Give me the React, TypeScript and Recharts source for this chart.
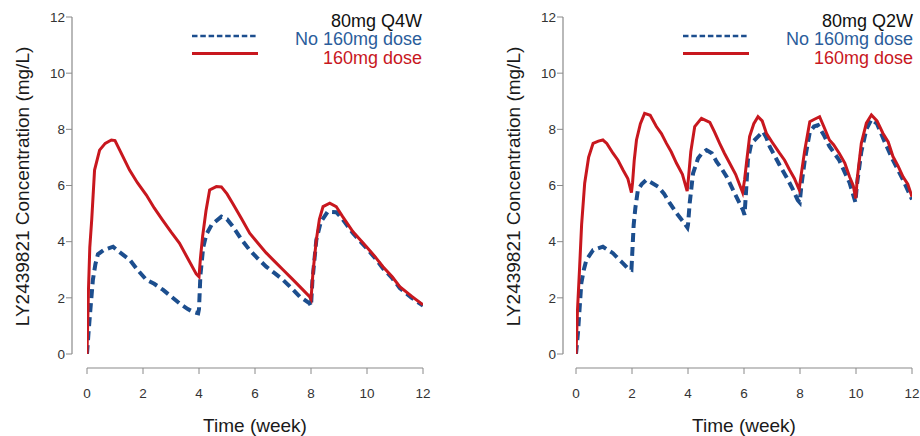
import { LineChart, Line, XAxis, YAxis, ReferenceLine, Legend, Label } from 'recharts';

// weeks on the x axis, mg/L on the y axis
const axisTicks = [0, 2, 4, 6, 8, 10, 12];

// 80mg Q4W, 160mg loading dose
const q4wLoadTime = [0, 0.05, 0.1, 0.17, 0.27, 0.45, 0.65, 0.87, 1.0, 1.2, 1.52, 1.8, 2.12, 2.4, 2.7, 3.0, 3.3, 3.6, 3.9, 4.0, 4.05, 4.13, 4.25, 4.38, 4.62, 4.8, 5.0, 5.2, 5.5, 5.81, 6.1, 6.4, 6.7, 7.0, 7.3, 7.6, 7.95, 8.0, 8.07, 8.19, 8.3, 8.43, 8.67, 8.9, 9.13, 9.5, 9.98, 10.3, 10.57, 10.9, 11.17, 11.6, 12];
const q4wLoadConc = [0, 2.2, 3.8, 4.8, 6.55, 7.26, 7.5, 7.62, 7.6, 7.2, 6.55, 6.1, 5.66, 5.2, 4.77, 4.35, 3.95, 3.4, 2.85, 2.75, 3.4, 4.2, 5.1, 5.84, 5.96, 5.95, 5.7, 5.37, 4.85, 4.3, 3.95, 3.6, 3.3, 3.0, 2.7, 2.4, 2.04, 1.95, 2.9, 4.06, 4.8, 5.25, 5.37, 5.25, 4.89, 4.35, 3.82, 3.45, 3.11, 2.75, 2.4, 2.05, 1.75];

// 80mg Q4W, no loading dose
const q4wNoLoadTime = [0, 0.05, 0.1, 0.21, 0.3, 0.39, 0.6, 0.93, 1.2, 1.53, 1.8, 2.12, 2.4, 2.72, 3.0, 3.31, 3.6, 3.79, 3.97, 4.0, 4.05, 4.15, 4.26, 4.45, 4.8, 5.0, 5.2, 5.5, 5.81, 6.1, 6.4, 6.7, 7.0, 7.3, 7.6, 7.95, 8.0, 8.05, 8.19, 8.35, 8.6, 8.9, 9.13, 9.5, 10.0, 10.3, 10.57, 10.9, 11.17, 11.6, 12];
const q4wNoLoadConc = [0, 0.7, 1.33, 2.64, 3.2, 3.55, 3.7, 3.82, 3.6, 3.35, 3.0, 2.64, 2.5, 2.28, 2.05, 1.8, 1.6, 1.5, 1.45, 1.6, 2.8, 3.8, 4.25, 4.6, 4.89, 4.8, 4.55, 4.1, 3.7, 3.4, 3.11, 2.88, 2.64, 2.35, 2.04, 1.8, 1.7, 2.6, 4.06, 4.7, 5.07, 5.05, 4.8, 4.3, 3.75, 3.4, 3.05, 2.7, 2.35, 2.0, 1.72];

// 80mg Q2W, 160mg loading dose
const q2wLoadTime = [0, 0.05, 0.13, 0.2, 0.31, 0.45, 0.61, 0.8, 0.96, 1.1, 1.32, 1.5, 1.68, 1.85, 1.98, 2.02, 2.08, 2.16, 2.3, 2.45, 2.65, 2.87, 3.05, 3.23, 3.4, 3.59, 3.8, 3.97, 4.02, 4.1, 4.24, 4.48, 4.78, 4.95, 5.13, 5.3, 5.49, 5.7, 5.95, 6.02, 6.1, 6.2, 6.35, 6.5, 6.65, 6.8, 7.0, 7.27, 7.45, 7.63, 7.8, 7.97, 8.03, 8.17, 8.35, 8.5, 8.7, 8.85, 9.05, 9.2, 9.4, 9.6, 9.77, 9.9, 9.99, 10.05, 10.19, 10.37, 10.55, 10.75, 10.96, 11.15, 11.32, 11.5, 11.68, 11.85, 12];
const q2wLoadConc = [0, 1.5, 3.1, 4.6, 6.08, 7.0, 7.5, 7.58, 7.62, 7.5, 7.15, 6.9, 6.55, 6.25, 5.75, 6.1, 6.9, 7.62, 8.2, 8.57, 8.5, 8.1, 7.85, 7.5, 7.2, 6.79, 6.4, 5.8, 6.3, 7.2, 8.1, 8.39, 8.25, 7.9, 7.5, 7.15, 6.79, 6.4, 5.75, 6.2, 6.9, 7.74, 8.2, 8.45, 8.3, 7.86, 7.55, 7.15, 6.9, 6.55, 6.25, 5.85, 6.3, 7.26, 8.27, 8.35, 8.45, 8.1, 7.62, 7.45, 7.15, 6.8, 6.31, 6.0, 5.54, 6.3, 7.5, 8.22, 8.51, 8.3, 7.86, 7.55, 7.03, 6.7, 6.31, 6.05, 5.6];

// 80mg Q2W, no loading dose
const q2wNoLoadTime = [0, 0.07, 0.19, 0.28, 0.37, 0.61, 0.96, 1.32, 1.5, 1.68, 1.85, 1.98, 2.02, 2.06, 2.12, 2.21, 2.35, 2.51, 2.7, 2.93, 3.15, 3.35, 3.6, 3.83, 3.98, 4.0, 4.06, 4.18, 4.36, 4.5, 4.66, 4.85, 5.02, 5.2, 5.38, 5.67, 5.96, 6.02, 6.08, 6.14, 6.26, 6.5, 6.68, 6.8, 6.92, 7.1, 7.27, 7.57, 7.75, 7.92, 7.99, 8.05, 8.17, 8.35, 8.5, 8.64, 8.85, 9.05, 9.4, 9.77, 9.98, 10.03, 10.19, 10.37, 10.55, 10.75, 10.96, 11.32, 11.68, 12];
const q2wNoLoadConc = [0, 0.75, 2.52, 3.0, 3.35, 3.7, 3.82, 3.59, 3.4, 3.23, 3.05, 3.0, 3.8, 4.6, 5.2, 5.84, 6.05, 6.2, 6.1, 5.96, 5.7, 5.37, 5.0, 4.71, 4.5, 4.6, 5.37, 6.43, 6.97, 7.15, 7.26, 7.15, 6.85, 6.6, 6.31, 5.72, 5.13, 4.95, 5.9, 6.91, 7.5, 7.74, 7.92, 7.7, 7.38, 7.05, 6.73, 6.2, 5.85, 5.48, 5.4, 6.0, 6.9, 7.9, 8.1, 8.15, 7.8, 7.4, 6.9, 6.1, 5.4, 6.0, 7.2, 8.0, 8.35, 8.2, 7.7, 6.9, 6.2, 5.5];

const toPoints = (time: number[], conc: number[]) => time.map((t, i) => ({ t, c: conc[i] }));

const FONT = '"Liberation Sans", Arial, Helvetica, sans-serif';
const RED = '#c8171e';
const BLUE = '#1c4e8e';
const LEGEND_BLUE = '#2b5d9b';
const AXIS = '#8a8a8a';

const H = 436;
const TOP = 17;
const X_AXIS_H = 68;
const PAD_BOTTOM = 14;
const Y_AXIS_W = 72;

const YTitle = (props: any) => {
  const vb = props.viewBox || { x: 0, y: TOP, width: Y_AXIS_W, height: H - TOP - X_AXIS_H };
  const cx = vb.x + 29;
  const cy = vb.y + (vb.height - PAD_BOTTOM) / 2 + 1;
  return (
    <text x={cx} y={cy} transform={`rotate(-90 ${cx} ${cy})`} textAnchor="middle" fontSize={19} fill="#1a1a1a" fontFamily={FONT}>
      LY2439821 Concentration (mg/L)
    </text>
  );
};

const XTitle = (props: any) => {
  const pad = props.padLeft ?? 0;
  const vb = props.viewBox || { x: Y_AXIS_W, y: H - X_AXIS_H, width: 336 + pad, height: X_AXIS_H };
  const cx = vb.x + pad + (vb.width - pad) / 2;
  return (
    <text x={cx} y={vb.y + vb.height - 4} textAnchor="middle" fontSize={19} fill="#1a1a1a" fontFamily={FONT}>
      Time (week)
    </text>
  );
};

const DoseLegend = ({ title }: { title: string }) => (
  <svg width={430} height={72} style={{ display: 'block' }}>
    <line x1={192} x2={258} y1={36} y2={36} stroke={BLUE} strokeWidth={2.5} strokeDasharray="5.5 2.8" />
    <line x1={192} x2={258} y1={53.5} y2={53.5} stroke={RED} strokeWidth={3} />
    <g fontFamily={FONT} fontSize={18} textAnchor="end">
      <text x={422} y={26.5} fill="#111">{title}</text>
      <text x={422} y={45} fill={LEGEND_BLUE}>No 160mg dose</text>
      <text x={422} y={63.5} fill={RED}>160mg dose</text>
    </g>
  </svg>
);

type PanelProps = {
  title: string;
  load: { t: number; c: number }[];
  noLoad: { t: number; c: number }[];
  left: number;
  width: number;
  padLeft: number;
  marginRight: number;
};

const Panel = ({ title, load, noLoad, left, width, padLeft, marginRight }: PanelProps) => {
  const plotH = H - TOP - X_AXIS_H;
  const yPerUnit = (plotH - PAD_BOTTOM) / 12;
  const xPerUnit = (width - Y_AXIS_W - marginRight - padLeft) / 12;
  const axisY = -PAD_BOTTOM / yPerUnit;
  const axisX = -padLeft / xPerUnit;

  return (
    <div style={{ position: 'absolute', left, top: 0 }}>
      <LineChart width={width} height={H} margin={{ top: TOP, right: marginRight, bottom: 0, left: 0 }} style={{ fontFamily: FONT }}>
        <XAxis
          dataKey="t"
          type="number"
          domain={[0, 12]}
          ticks={axisTicks}
          padding={{ left: padLeft, right: 0 }}
          height={X_AXIS_H}
          axisLine={false}
          tickLine={{ stroke: AXIS }}
          tickSize={6}
          tickMargin={14}
          tick={{ fill: '#333', fontSize: 13.5, fontFamily: FONT }}
          allowDataOverflow
        >
          <Label content={<XTitle padLeft={padLeft} />} />
        </XAxis>
        <YAxis
          type="number"
          domain={[0, 12]}
          ticks={axisTicks}
          padding={{ top: 0, bottom: PAD_BOTTOM }}
          width={Y_AXIS_W}
          axisLine={false}
          tickLine={{ stroke: AXIS }}
          tickSize={6}
          tickMargin={1}
          tick={{ fill: '#333', fontSize: 13.5, fontFamily: FONT }}
          allowDataOverflow
        >
          <Label content={<YTitle />} />
        </YAxis>
        <ReferenceLine segment={[{ x: 0, y: axisY }, { x: 12, y: axisY }]} stroke={AXIS} strokeWidth={1.2} ifOverflow="visible" />
        <ReferenceLine segment={[{ x: axisX, y: 0 }, { x: axisX, y: 12 }]} stroke={AXIS} strokeWidth={1.2} ifOverflow="visible" />
        <Legend
          layout="vertical"
          align="center"
          verticalAlign="middle"
          wrapperStyle={{ left: 0, top: 0, width: 430, height: 72 }}
          content={<DoseLegend title={title} />}
        />
        <Line data={noLoad} dataKey="c" type="linear" stroke={BLUE} strokeWidth={4} strokeDasharray="9 5" dot={false} isAnimationActive={false} />
        <Line data={load} dataKey="c" type="linear" stroke={RED} strokeWidth={3} dot={false} isAnimationActive={false} />
      </LineChart>
    </div>
  );
};

export default function App() {
  return (
    <div style={{ position: 'absolute', left: 0, top: 0, width: 920, height: H, overflow: 'hidden', background: '#fff' }}>
      <Panel
        title="80mg Q4W"
        load={toPoints(q4wLoadTime, q4wLoadConc)}
        noLoad={toPoints(q4wNoLoadTime, q4wNoLoadConc)}
        left={0}
        width={460}
        padLeft={15}
        marginRight={37}
      />
      <Panel
        title="80mg Q2W"
        load={toPoints(q2wLoadTime, q2wLoadConc)}
        noLoad={toPoints(q2wNoLoadTime, q2wNoLoadConc)}
        left={491}
        width={429}
        padLeft={13}
        marginRight={8}
      />
    </div>
  );
}
